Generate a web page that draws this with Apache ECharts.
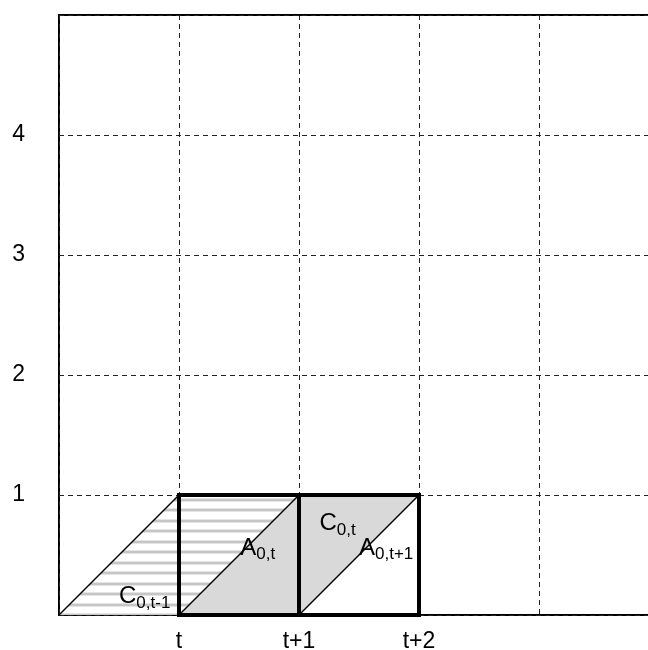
<!DOCTYPE html>
<html>
<head>
<meta charset="utf-8">
<script src="https://cdn.jsdelivr.net/npm/echarts@6/dist/echarts.min.js"></script>
<style>html,body{margin:0;padding:0;background:#fff}#c{width:648px;height:650px}</style>
</head>
<body>
<div id="c"></div>
<script>
// ---- data ----
const xTickLabels = ['t', 't+1', 't+2'];          // at x = 1, 2, 3
const yTickLabels = ['1', '2', '3', '4'];          // at y = 1..4
const hatchedRegions = [
  [[0, 0], [1, 1], [1, 0]],
  [[1, 0], [1, 1], [2, 1]]
];
const shadedRegions = [
  [[1, 0], [2, 1], [2, 0]],
  [[2, 0], [2, 1], [3, 1]]
];
const boxes = [
  [[1, 0], [1, 1], [2, 1], [2, 0]],
  [[2, 0], [2, 1], [3, 1], [3, 0]]
];
const diagonals = [
  [[0, 0], [1, 1]],
  [[1, 0], [2, 1]],
  [[2, 0], [3, 1]]
];
const regionLabels = [
  { main: 'C', sub: '0,t-1', x: 0.5, y: 0.17 },
  { main: 'A', sub: '0,t', x: 1.51, y: 0.575 },
  { main: 'C', sub: '0,t', x: 2.17, y: 0.78 },
  { main: 'A', sub: '0,t+1', x: 2.5, y: 0.575 }
];

// hatch pattern (style only): two soft grey stripes per 21px tile
const pat = document.createElement('canvas');
pat.width = 10; pat.height = 21;
const pc = pat.getContext('2d');
pc.fillStyle = '#ffffff'; pc.fillRect(0, 0, 10, 21);
pc.fillStyle = '#e4e4e4'; pc.fillRect(0, 4, 10, 1); pc.fillRect(0, 7, 10, 1);
pc.fillRect(0, 15, 10, 1); pc.fillRect(0, 18, 10, 1);
pc.fillStyle = '#c6c6c6'; pc.fillRect(0, 5, 10, 2); pc.fillRect(0, 16, 10, 2);

const FONT = '"Liberation Sans", Arial, sans-serif';

function polySeries(list, style, z) {
  return {
    type: 'custom',
    coordinateSystem: 'cartesian2d',
    data: list.map((_, i) => [i]),
    z: z,
    silent: true,
    renderItem: function (params, api) {
      const pts = list[params.dataIndex].map(p => api.coord(p));
      return { type: 'polygon', shape: { points: pts }, style: style };
    }
  };
}

const chart = echarts.init(document.getElementById('c'), null, { renderer: 'canvas' });
chart.setOption({
  animation: false,
  backgroundColor: '#fff',
  grid: { left: 59, top: 15, width: 600, height: 600, outerBoundsMode: 'none', containLabel: false,
          show: true, borderColor: '#000', borderWidth: 2, backgroundColor: 'transparent' },
  xAxis: {
    type: 'value', min: 0, max: 5, interval: 1,
    axisLine: { show: false }, axisTick: { show: false },
    splitLine: { show: true, lineStyle: { color: '#222', type: [5, 4], width: 1 } },
    axisLabel: {
      margin: 15, color: '#000', fontSize: 23, fontFamily: FONT,
      formatter: v => (v >= 1 && v <= xTickLabels.length) ? xTickLabels[v - 1] : ''
    }
  },
  yAxis: {
    type: 'value', min: 0, max: 5, interval: 1,
    axisLine: { show: false }, axisTick: { show: false },
    splitLine: { show: true, lineStyle: { color: '#222', type: [5, 4], width: 1 } },
    axisLabel: {
      margin: 34, color: '#000', fontSize: 23, fontFamily: FONT,
      formatter: v => (v >= 1 && v <= yTickLabels.length) ? yTickLabels[v - 1] : ''
    }
  },
  series: [
    polySeries(hatchedRegions, { fill: { image: pat, repeat: 'repeat' }, stroke: 'none' }, 2),
    polySeries(shadedRegions, { fill: '#d9d9d9', stroke: 'none' }, 3),
    {
      type: 'custom', coordinateSystem: 'cartesian2d', z: 4, silent: true,
      data: diagonals.map((_, i) => [i]),
      renderItem: function (params, api) {
        const d = diagonals[params.dataIndex];
        const a = api.coord(d[0]), b = api.coord(d[1]);
        return { type: 'line', shape: { x1: a[0], y1: a[1], x2: b[0], y2: b[1] }, style: { stroke: '#000', lineWidth: 1.5 } };
      }
    },
    polySeries(boxes, { fill: 'none', stroke: '#000', lineWidth: 4 }, 5),
    {
      type: 'custom', coordinateSystem: 'cartesian2d', z: 6, silent: true,
      data: regionLabels.map((_, i) => [i]),
      renderItem: function (params, api) {
        const l = regionLabels[params.dataIndex];
        const p = api.coord([l.x, l.y]);
        return {
          type: 'text', x: p[0], y: p[1],
          style: {
            text: '{m|' + l.main + '}{s|' + l.sub + '}',
            align: 'left', verticalAlign: 'middle',
            rich: {
              m: { fontSize: 24, fontFamily: FONT, fill: '#000', lineHeight: 28, verticalAlign: 'bottom' },
              s: { fontSize: 17, fontFamily: FONT, fill: '#000', lineHeight: 28, verticalAlign: 'bottom', padding: [0, 0, -3, 0] }
            }
          }
        };
      }
    }
  ]
});
</script>
</body>
</html>
